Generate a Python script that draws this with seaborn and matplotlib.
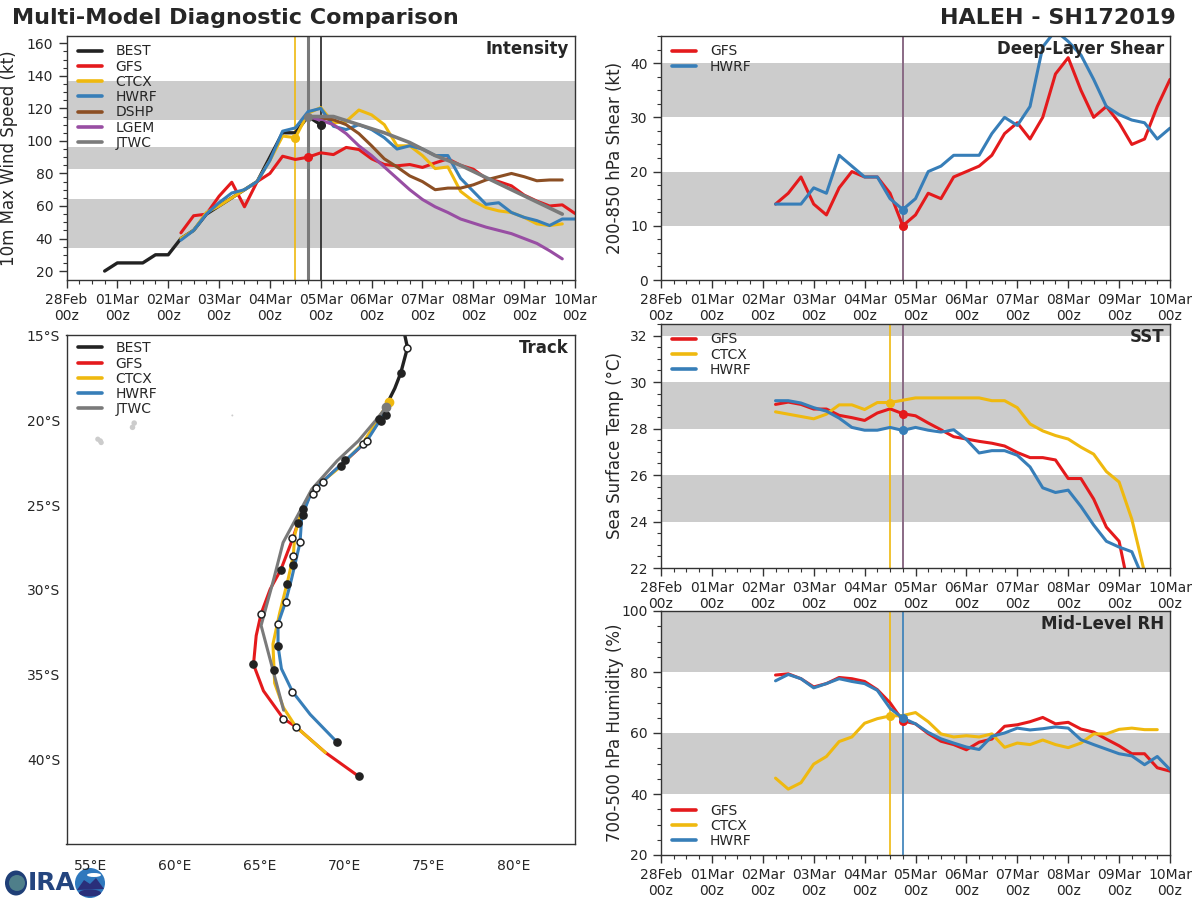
import numpy as np
import pandas as pd
import seaborn as sns
import matplotlib
matplotlib.use('Agg')
import matplotlib.pyplot as plt
from matplotlib.patches import Circle, Ellipse, Polygon

sns.set_theme(style='white', font='DejaVu Sans')

RED = '#e41a1c'
YEL = '#efb90f'
BLU = '#377eb8'
BRN = '#8c4f24'
PUR = '#984ea3'
GRY = '#7a7a7a'
BLK = '#222222'
BAND = '#cccccc'

tick_days = list(range(11))
tick_labels = ['28Feb\n00z', '01Mar\n00z', '02Mar\n00z', '03Mar\n00z', '04Mar\n00z', '05Mar\n00z',
               '06Mar\n00z', '07Mar\n00z', '08Mar\n00z', '09Mar\n00z', '10Mar\n00z']

# intensity, kt, every 6h
best_vmax = [20, 25, 25, 25, 30, 30, 40, 45, 55, 60, 65, 70, 75, 90, 105, 105, 115, 110]
gfs_vmax = [43.5, 54, 55, 66, 74.6, 59.5, 75, 80, 90.6, 88.6, 90, 92.7, 91.6, 96, 94.7, 89, 85.5, 84.7, 85.5,
            83.7, 86.5, 89, 85, 82.6, 77, 75, 72.4, 66.7, 63, 60, 60.7, 55.4]
ctcx_vmax = [40, 45, 56, 60, 65, 70, 75, 88, 103, 102, 117, 120.5, 111, 112, 119, 116, 110, 97, 97, 91, 83, 84,
             69, 63, 59, 57, 56, 53, 49, 48, 49]
hwrf_vmax = [39, 45, 55, 62, 68, 70, 75, 88, 106, 108, 118, 120, 109, 107, 110, 107, 102, 95, 97, 95, 91, 91,
             77, 69, 61, 62, 56, 53, 51, 48, 52, 52]
dshp_vmax = [115, 114, 113, 110, 104.5, 97, 89, 84, 78.5, 75, 70, 71, 71, 73, 76, 78, 80, 78, 75.5, 76, 76]
lgem_vmax = [115, 112.7, 110, 104.5, 97, 91, 84, 77, 70, 64, 59.5, 56, 52, 49.5, 47, 45, 43, 40, 37, 32.5, 27.5]
jtwc_days = [4.75, 5.25, 5.75, 6.25, 6.75, 7.25, 7.75, 8.75, 9.75]
jtwc_vmax = [115, 115, 110, 105, 99, 91, 85, 70, 55]

# shear, kt
gfs_shear = [14, 16, 19, 14, 12, 17, 20, 19, 19, 16, 10, 12, 16, 15, 19, 20, 21, 23, 27, 29, 26, 30, 38, 41, 35,
             30, 32, 29, 25, 26, 32, 37]
hwrf_shear = [14, 14, 14, 17, 16, 23, 21, 19, 19, 15, 13, 15, 20, 21, 23, 23, 23, 27, 30, 28.5, 32, 43, 46, 44,
              41.5, 37, 32, 30.5, 29.5, 29, 26, 28]

# sst, C
gfs_sst = [29.04, 29.14, 29.04, 28.84, 28.84, 28.57, 28.47, 28.35, 28.67, 28.85, 28.64, 28.55, 28.24, 27.95,
           27.65, 27.55, 27.45, 27.37, 27.25, 26.97, 26.75, 26.75, 26.65, 25.85, 25.85, 24.97, 23.76, 23.15, 20.5]
ctcx_sst = [28.72, 28.62, 28.52, 28.42, 28.62, 29.02, 29.02, 28.82, 29.12, 29.12, 29.22, 29.32, 29.32, 29.32,
            29.32, 29.32, 29.32, 29.2, 29.2, 28.9, 28.2, 27.9, 27.7, 27.55, 27.2, 26.9, 26.15, 25.7, 24.1, 21.8]
hwrf_sst = [29.2, 29.2, 29.1, 28.9, 28.75, 28.45, 28.05, 27.93, 27.93, 28.05, 27.92, 28.05, 27.93, 27.85, 27.95,
            27.53, 26.95, 27.05, 27.05, 26.85, 26.35, 25.45, 25.25, 25.35, 24.65, 23.85, 23.15, 22.9, 22.7, 21.4]

# mid level rh, %
gfs_rh = [79, 79.4, 77.8, 75.1, 76.2, 78.2, 77.8, 76.9, 74.2, 69.9, 64, 63, 59.8, 57.3, 56.2, 54.5, 57, 58, 62.2,
          62.7, 63.7, 65.1, 63, 63.5, 61.3, 60.3, 58, 55.8, 53.2, 53.2, 48.6, 47.5]
ctcx_rh = [45.2, 41.6, 43.7, 49.8, 52.3, 57.2, 58.7, 63.2, 64.7, 65.6, 65.7, 66.7, 63.7, 59.7, 58.7, 59.1, 58.7,
           59.7, 55.3, 56.7, 56.2, 57.7, 56.2, 55.2, 56.7, 59.7, 59.7, 61.2, 61.6, 61.1, 61.1]
hwrf_rh = [77.1, 79.2, 77.8, 74.8, 76.2, 77.8, 76.9, 76.2, 74, 68.1, 64.9, 63, 60.2, 58.1, 56.7, 55.4, 54.6, 58.9,
           60, 61.6, 61, 61.4, 62, 61.6, 57.8, 56.2, 54.7, 53.2, 52.5, 49.6, 52.3, 48]

# tracks, lon / lat
best_lon = [73.6, 73.75, 73.35, 73.0, 72.6]
best_lat = [-15.0, -15.7, -17.2, -18.1, -18.9]
gfs_lon = [72.5, 72.1, 71.15, 69.77, 68.1, 67.3, 66.92, 66.27, 65.64, 65.1, 64.81, 64.65, 65.24, 66.42, 67.15,
           68.9, 70.86]
gfs_lat = [-19.2, -20.0, -21.4, -22.67, -24.15, -26.0, -27.1, -28.8, -29.95, -31.4, -32.7, -34.4, -35.96, -37.6,
           -38.07, -39.6, -41.0]
ctcx_lon = [72.65, 71.95, 71.15, 69.7, 68.1, 67.5, 67.1, 67.0, 66.7, 66.2, 65.8, 65.9, 66.42, 67.15, 68.9]
ctcx_lat = [-18.9, -20.0, -21.3, -22.8, -24.1, -25.3, -26.7, -28.0, -29.35, -31.35, -33.2, -35.5, -36.95, -38.07,
            -39.6]
hwrf_lon = [72.5, 72.05, 71.35, 70.07, 68.8, 68.1, 67.5, 67.4, 66.9, 66.55, 66.1, 66.1, 66.3, 66.95, 68.0, 69.6]
hwrf_lat = [-19.2, -20.1, -21.2, -22.37, -23.55, -24.15, -25.7, -27.2, -29.35, -30.7, -32.0, -33.3, -34.65, -36.0,
            -37.35, -39.0]
jtwc_lon = [72.5, 71.95, 70.85, 69.6, 68.1, 66.4, 65.85, 65.1, 66.43]
jtwc_lat = [-19.2, -19.9, -21.2, -22.37, -24.05, -27.2, -29.35, -32.1, -37.1]

filled_lon = [73.35, 70.86, 69.6, 64.65, 66.1, 65.85, 66.66, 66.27, 67.0, 67.3, 67.6, 67.6, 69.8, 70.07, 72.05,
              72.2, 72.5]
filled_lat = [-17.2, -41.0, -39.0, -34.4, -33.3, -34.75, -29.65, -28.8, -28.55, -26.05, -25.2, -25.55, -22.7,
              -22.35, -19.9, -20.05, -19.7]
open_lon = [73.75, 67.15, 66.42, 66.95, 66.1, 65.1, 66.55, 67.0, 67.4, 66.95, 68.17, 68.35, 68.75, 71.15, 71.35]
open_lat = [-15.7, -38.07, -37.6, -36.0, -32.0, -31.4, -30.7, -28.0, -27.2, -26.95, -24.35, -24.0, -23.6, -21.4,
            -21.2]

land_lon = [55.45, 55.6, 55.65, 57.5, 57.6, 63.4]
land_lat = [-21.1, -21.2, -21.3, -20.4, -20.15, -19.7]
land_size = [14, 14, 14, 16, 16, 2]

lon_ticks = [55, 60, 65, 70, 75, 80]
lat_ticks = [-15, -20, -25, -30, -35, -40]


def make_axes(fig, x0, x1, y0, y1):
    # pixel box, y measured from the top of the picture
    ax = fig.add_axes([x0 / 1200, 1 - y1 / 900, (x1 - x0) / 1200, (y1 - y0) / 900])
    for s in ax.spines.values():
        s.set_color('#333333')
        s.set_linewidth(1.0)
    return ax


def draw(ax, days, vals, color, name=None, lw=2.2):
    df = pd.DataFrame({'day': days, 'val': vals})
    sns.lineplot(data=df, x='day', y='val', color=color, lw=lw, label=name, ax=ax, sort=False, estimator=None,
                 legend=bool(name))


def series(start, vals):
    return [start + 0.25 * i for i in range(len(vals))]


def add_legend(ax, loc='upper left'):
    anchor = (0.002, 1.008) if loc == 'upper left' else (0.002, -0.015)
    leg = ax.legend(loc=loc, bbox_to_anchor=anchor, frameon=False, fontsize=10, labelspacing=0.09, handlelength=1.7,
                    handletextpad=1.0, borderpad=0.3, borderaxespad=0.45, labelcolor='#262626')
    for h in leg.get_lines():
        h.set_linewidth(2.6)


def finish_time(ax, ylabel, title, ymin, ymax, bands, yticks, yminor, label_x, loc='upper left'):
    for lo, hi in bands:
        ax.axhspan(lo, hi, color=BAND, lw=0, zorder=0)
    ax.set_xlim(0, 10)
    ax.set_ylim(ymin, ymax)
    ax.set_xticks(tick_days)
    ax.set_xticklabels(tick_labels, fontsize=10, color='#262626', linespacing=1.15)
    ax.set_xticks(np.arange(0, 10.01, 0.25), minor=True)
    ax.set_yticks(yticks)
    ax.set_yticks(yminor, minor=True)
    ax.tick_params(axis='both', which='major', length=6, width=1, color='#333333', labelsize=10, left=True,
                   bottom=True, pad=3.5, labelcolor='#262626')
    ax.tick_params(axis='both', which='minor', length=3, width=0.8, color='#333333', left=True, bottom=True)
    ax.set_xlabel('')
    ax.set_ylabel(ylabel, fontsize=12, color='#262626')
    ax.yaxis.set_label_coords(label_x, 0.5)
    ax.text(0.988, 0.985, title, transform=ax.transAxes, ha='right', va='top', fontsize=12, fontweight='bold',
            color='#262626', zorder=20)
    add_legend(ax, loc)


fig = plt.figure(figsize=(12, 9), dpi=100)

# intensity
ax = make_axes(fig, 66.5, 575, 36, 280)
ax.axvline(4.5, color=YEL, lw=1.2, zorder=2)
ax.axvline(4.75, color=GRY, lw=2.2, zorder=2)
ax.axvline(5.0, color=BLK, lw=1.2, zorder=2)
draw(ax, series(0.75, best_vmax), best_vmax, BLK, 'BEST', lw=2.4)
draw(ax, series(2.25, gfs_vmax), gfs_vmax, RED, 'GFS')
draw(ax, series(2.25, ctcx_vmax), ctcx_vmax, YEL, 'CTCX')
draw(ax, series(2.25, hwrf_vmax), hwrf_vmax, BLU, 'HWRF')
draw(ax, series(4.75, dshp_vmax), dshp_vmax, BRN, 'DSHP')
draw(ax, series(4.75, lgem_vmax), lgem_vmax, PUR, 'LGEM')
draw(ax, jtwc_days, jtwc_vmax, GRY, 'JTWC', lw=2.6)
for i, (day, v, c) in enumerate([(5.0, best_vmax[17], BLK), (4.75, gfs_vmax[10], RED), (4.5, ctcx_vmax[9], YEL),
                                 (4.75, jtwc_vmax[0], GRY)]):
    ax.plot([day], [v], 'o', color=c, ms=5.5, zorder=6 + i)
finish_time(ax, '10m Max Wind Speed (kt)', 'Intensity', 14.5, 164.5, [(34, 64.5), (83, 96), (113, 137)],
            range(20, 161, 20), np.arange(20, 161, 5), -0.095)

# shear
ax = make_axes(fig, 661, 1170, 36, 280)
ax.axvline(4.75, color='#8a6a85', lw=1.4, zorder=2)
draw(ax, series(2.25, gfs_shear), gfs_shear, RED, 'GFS')
draw(ax, series(2.25, hwrf_shear), hwrf_shear, BLU, 'HWRF')
ax.plot([4.75], [gfs_shear[10]], 'o', color=RED, ms=5.5, zorder=6)
ax.plot([4.75], [hwrf_shear[10]], 'o', color=BLU, ms=5.5, zorder=6)
finish_time(ax, '200-850 hPa Shear (kt)', 'Deep-Layer Shear', 0, 45, [(10, 20), (30, 40)],
            range(0, 41, 10), np.arange(0, 46, 2.5), -0.073)

# sst
ax = make_axes(fig, 661, 1170, 324, 568)
ax.axvline(4.5, color=YEL, lw=1.2, zorder=2)
ax.axvline(4.75, color='#8a6a85', lw=1.4, zorder=2)
draw(ax, series(2.25, gfs_sst), gfs_sst, RED, 'GFS')
draw(ax, series(2.25, ctcx_sst), ctcx_sst, YEL, 'CTCX')
draw(ax, series(2.25, hwrf_sst), hwrf_sst, BLU, 'HWRF')
ax.plot([4.75], [gfs_sst[10]], 'o', color=RED, ms=5.5, zorder=6)
ax.plot([4.5], [ctcx_sst[9]], 'o', color=YEL, ms=5.5, zorder=6)
ax.plot([4.75], [hwrf_sst[10]], 'o', color=BLU, ms=5.5, zorder=6)
finish_time(ax, 'Sea Surface Temp (°C)', 'SST', 22, 32.5, [(24, 26), (28, 30), (32, 33)],
            range(22, 33, 2), np.arange(22, 32.6, 0.5), -0.073)

# rh
ax = make_axes(fig, 661, 1170, 611, 855)
ax.axvline(4.5, color=YEL, lw=1.2, zorder=2)
ax.axvline(4.75, color=BLU, lw=1.2, zorder=2)
draw(ax, series(2.25, gfs_rh), gfs_rh, RED, 'GFS')
draw(ax, series(2.25, ctcx_rh), ctcx_rh, YEL, 'CTCX')
draw(ax, series(2.25, hwrf_rh), hwrf_rh, BLU, 'HWRF')
ax.plot([4.75], [gfs_rh[10]], 'o', color=RED, ms=5.5, zorder=6)
ax.plot([4.5], [ctcx_rh[9]], 'o', color=YEL, ms=5.5, zorder=6)
ax.plot([4.75], [hwrf_rh[10]], 'o', color=BLU, ms=5.5, zorder=6)
finish_time(ax, '700-500 hPa Humidity (%)', 'Mid-Level RH', 20, 100, [(40, 60), (80, 100)],
            range(20, 101, 20), np.arange(20, 101, 5), -0.073, loc='lower left')

# track
ax = make_axes(fig, 66.5, 575, 335, 844)
ax.scatter(land_lon, land_lat, s=land_size, color='#cccccc', lw=0, zorder=1)
draw(ax, best_lon, best_lat, BLK, 'BEST', lw=2.4)
draw(ax, gfs_lon, gfs_lat, RED, 'GFS')
draw(ax, ctcx_lon, ctcx_lat, YEL, 'CTCX')
draw(ax, hwrf_lon, hwrf_lat, BLU, 'HWRF')
draw(ax, jtwc_lon, jtwc_lat, GRY, 'JTWC', lw=2.2)
ax.plot(filled_lon, filled_lat, 'o', color=BLK, ms=5.2, zorder=3, ls='')
ax.plot(open_lon, open_lat, 'o', mfc='white', mec=BLK, mew=1.1, ms=5, zorder=7, ls='')
ax.plot([ctcx_lon[0]], [ctcx_lat[0]], 'o', color=YEL, ms=6, zorder=8)
ax.plot([jtwc_lon[0]], [jtwc_lat[0]], 'o', color=GRY, ms=6, zorder=9)
ax.set_xlim(53.6, 83.65)
ax.set_ylim(-45, -14.95)
ax.set_xticks(lon_ticks)
ax.set_xticklabels(['%d°E' % v for v in lon_ticks], fontsize=10, color='#262626')
ax.set_yticks(lat_ticks)
ax.set_yticklabels(['%d°S' % -v for v in lat_ticks], fontsize=10, color='#262626')
ax.tick_params(axis='x', which='major', length=0, pad=11)
ax.tick_params(axis='y', which='major', length=0, pad=4.5)
ax.set_xlabel('')
ax.set_ylabel('')
ax.text(0.988, 0.992, 'Track', transform=ax.transAxes, ha='right', va='top', fontsize=12, fontweight='bold',
        color='#262626', zorder=20)
add_legend(ax)

fig.text(12 / 1200, 1 - 18 / 900, 'Multi-Model Diagnostic Comparison', fontsize=16, fontweight='bold',
         color='#262626', va='center', ha='left')
fig.text(1176 / 1200, 1 - 18 / 900, 'HALEH - SH172019', fontsize=16, fontweight='bold', color='#262626',
         va='center', ha='right')

# logo, drawn roughly in pixel space, sits behind the tick labels
logo = fig.add_axes([0, 0, 1, 1], facecolor='none', zorder=-1)
logo.set_xlim(0, 1200)
logo.set_ylim(900, 0)
logo.axis('off')
logo.add_patch(Ellipse((16, 883), 22, 25, fc='#1f3f77', ec='none'))
logo.add_patch(Circle((17, 883), 8, fc='#4f7f8a', ec='none'))
logo.text(28, 883, 'IRA', fontsize=18, fontweight='bold', color='#24457f', va='center', ha='left',
          family='DejaVu Sans')
logo.add_patch(Circle((90, 883), 15, fc='#2f78bd', ec='none'))
logo.add_patch(Polygon([(77, 890), (84, 880), (90, 884), (96, 878), (104, 889)], fc='#2a2f7a', ec='none'))
logo.add_patch(Ellipse((90, 893), 22, 7, fc='#2a2f7a', ec='none'))
logo.add_patch(Ellipse((94, 875), 14, 4, fc='white', ec='none'))

fig.savefig('out.png', dpi=100)
